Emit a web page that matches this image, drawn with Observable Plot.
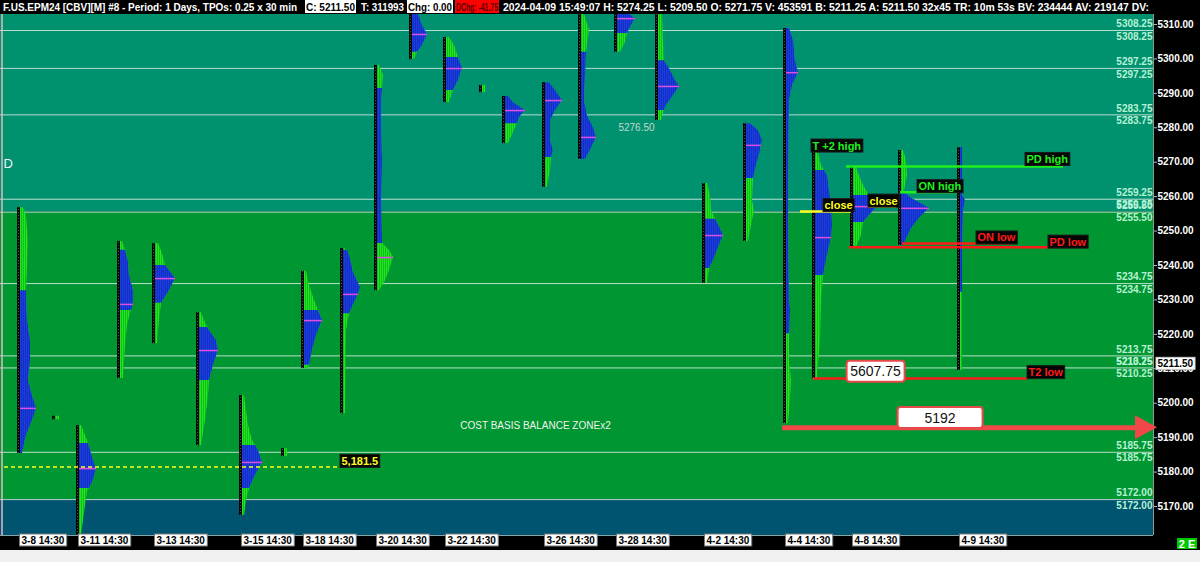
<!DOCTYPE html>
<html>
<head>
<meta charset="utf-8">
<script src="https://cdn.jsdelivr.net/npm/d3@7"></script>
<script src="https://cdn.jsdelivr.net/npm/@observablehq/plot@0.6"></script>
<style>
  html, body { margin: 0; padding: 0; background: #000; width: 1200px; height: 562px; overflow: hidden; }
  svg { display: block; }
</style>
</head>
<body>
<div id="chart"></div>
<script>
// ================= DATA =================
// one entry per daily / overnight market profile (left to right)
const profileDates = ["3-8","3-8 ON","3-11","3-12","3-13","3-14","3-15","3-15 ON","3-18","3-19","3-20","3-21","3-22","3-22 ON","3-25","3-26","3-27","3-28","4-1","4-2","4-3","4-4","4-5","4-8","4-8 ON","4-9"];
const dateLabels = ["3-8 14:30","","3-11 14:30","","3-13 14:30","","3-15 14:30","","3-18 14:30","","3-20 14:30","","3-22 14:30","","","3-26 14:30","","3-28 14:30","","4-2 14:30","","4-4 14:30","","4-8 14:30","","4-9 14:30"];
// cumulative TPO-column position of each profile
const columnPos = [18,53,77,118,153,197,240,282,302,341,375,410,444,480,503,543,579,615,656,703,744,784,813,851,899,958];
// profile outline: [price, TPO width] from top to bottom
const profileShapes = [
  [[5256.8,3],[5254.5,6],[5247,8],[5232.7,6],[5224,7],[5218.2,10],[5212.4,10],[5206.6,8],[5202.2,12],[5198.5,16],[5195,12],[5190.6,6],[5185.4,2]],
  [[5196.2,4],[5195.2,4]],
  [[5193.5,2],[5189.2,8],[5188.3,9],[5183.4,14],[5181,17],[5177.6,14],[5175.2,10],[5174.6,8],[5170.3,6],[5166,4],[5161.6,2]],
  [[5247,2],[5244.4,5],[5240.9,8],[5237.1,9],[5232.7,13],[5228.7,13],[5226.9,11],[5226.3,10],[5222.6,7],[5216.8,5],[5207.2,3]],
  [[5246.4,3],[5243.5,7],[5240,10],[5236.2,20],[5232.7,14],[5229,6],[5224,4],[5217.3,2]],
  [[5226.3,2],[5224,5],[5222,8],[5218.2,17],[5215.3,19],[5211,14],[5206.6,10],[5202.2,9],[5195,6],[5187.7,2]],
  [[5202.2,2],[5197.9,4],[5193.5,6],[5189.2,10],[5187.7,13],[5186.3,16],[5182.8,20],[5179,13],[5175.2,7],[5171.7,4],[5167.4,2]],
  [[5186.8,3],[5184.5,3]],
  [[5238.3,2],[5234.2,5],[5229.8,10],[5226.9,14],[5224,18],[5219.7,12],[5215.3,8],[5211,5],[5210.1,4]],
  [[5244.9,2],[5244.4,4],[5242,7],[5238,10],[5233.6,17],[5231.6,15],[5229.8,12],[5226,6],[5221.1,3],[5197,2]],
  [[5298.1,2],[5295.2,6],[5291.4,5],[5287.9,4],[5279.2,4],[5270.5,5],[5258.9,4],[5246.4,5],[5244.4,12],[5242.3,16],[5238.5,12],[5235.6,8],[5232.7,2]],
  [[5313,6],[5309.7,10],[5307.1,15],[5303.9,10],[5301.9,5],[5299.8,2]],
  [[5306.2,3],[5303.9,8],[5300.4,12],[5297.2,16],[5293.7,12],[5290.8,7],[5287.3,3]],
  [[5292.3,3],[5290.2,3]],
  [[5289.1,3],[5287.3,8],[5285,20],[5283,14],[5281.2,12],[5278.6,8],[5275.4,3]],
  [[5293.1,4],[5290.8,10],[5287.9,17],[5285,10],[5282.1,5],[5276.3,5],[5273.4,8],[5271.4,6],[5267.6,5],[5262.7,2]],
  [[5313,3],[5308.3,8],[5301.9,5],[5287.9,3],[5283.5,6],[5280,12],[5277.2,15],[5274,10],[5270.8,4]],
  [[5313,12],[5311.7,18],[5309.7,14],[5307.4,10],[5304.8,8],[5301.9,3]],
  [[5313,4],[5305.3,5],[5299.5,6],[5296.6,12],[5293.7,17],[5292,21],[5289.4,15],[5286.5,8],[5285,6],[5282.1,3]],
  [[5263.8,2],[5260.3,5],[5256,6],[5253.4,10],[5250.7,15],[5248.7,18],[5244.4,12],[5241.4,8],[5239.1,4],[5234.8,2]],
  [[5281.2,4],[5279.2,12],[5276.3,16],[5274.9,15],[5273.4,14],[5269,10],[5265.3,7],[5258.9,6],[5256,8],[5251.6,5],[5247,2]],
  [[5308.8,3],[5305.4,7],[5299.5,9],[5296,12],[5292.3,6],[5287.9,3],[5258.9,2],[5229.8,3],[5226.9,4],[5220.2,3],[5212.4,3],[5206.6,5],[5200.8,4],[5194.1,2]],
  [[5272.8,3],[5269,6],[5267.6,9],[5266.1,12],[5261.7,14],[5257.4,16],[5251.6,17],[5248.1,16],[5242.9,12],[5237.1,8],[5229.8,6],[5218.2,5],[5207.2,2]],
  [[5268.5,3],[5266.1,6],[5263.2,10],[5260.3,16],[5257.1,24],[5254.5,16],[5252.5,10],[5248.7,8],[5245.2,3]],
  [[5273.4,2],[5270.5,5],[5266.1,6],[5261.7,3],[5261,4],[5259.5,10],[5256.6,28],[5253.7,18],[5250.7,10],[5245.8,2]],
  [[5274.25,2],[5260.3,2],[5258.9,5],[5256,3],[5241.4,2],[5232.2,2],[5209.5,2]]
];
// blue section (range) and point of control of each profile
const valueLow  = [5185.4,NaN,5175.2,5226.9,5229,5206.6,5175.2,NaN,5211,5226,5246.4,5301.9,5290.8,NaN,5281.2,5271.4,5270.8,5307.4,5285,5239.1,5265.3,5220.2,5237.1,5252.5,5245.8,5232.2];
const valueHigh = [5232.7,NaN,5188.3,5244.4,5240,5222,5187.7,NaN,5226.9,5244.4,5291.4,5313,5300.4,NaN,5289.1,5293.1,5301.9,5313,5299.5,5253.4,5281.2,5308.8,5267.6,5260.3,5261,5274.25];
const pocPrice  = [5198.5,NaN,5181,5228.7,5236.2,5215.3,5182.8,NaN,5224,5231.6,5242.3,5307.1,5297.2,NaN,5285,5287.9,5277.2,5311.7,5292,5248.7,5274.9,5296,5248.1,5257.1,5256.6,NaN];

// price zones
const zoneLevels = [5308.25,5297.25,5283.75,5259.25,5255.50,5234.75,5213.75,5210.25,5185.75,5172.00];
const zoneEdges = [5255.5, 5172];
const priceTicks = [5170,5180,5190,5200,5210,5220,5230,5240,5250,5260,5270,5280,5290,5300,5310];
const lastPrice = 5211.5;

// reference lines
const refPrices = [5181.5, 5255.7, 5257.1, 5261.3, 5268.75, 5246.4, 5245.3, 5207.2];
const refFrom   = [4, 800, 868, 900, 846, 902, 849, 813];
const refTo     = [340, 851, 896, 957, 1063, 1012, 1048, 1027];
const refKinds  = ["yellowDash","yellow","yellow","green","green","red","red","red"];

// tag labels
const tagTexts  = ["5,181.5","T +2 high","close","close","ON high","PD high","ON low","PD low","T2 low"];
const tagPrices = [5183.1, 5274.7, 5257.4, 5258.7, 5262.9, 5270.8, 5248.0, 5246.8, 5208.9];
const tagCols   = [341, 812, 824, 869, 918, 1026, 977, 1049, 1028];
const tagKinds  = ["yellow","green","yellow","yellow","green","green","red","red","red"];

// callouts & arrow
const calloutTexts  = ["5607.75", "5192"];
const calloutPrices = [5209.1, 5195.7];
const calloutCols   = [875, 939.5];
const arrowPrice = 5192.9, arrowFrom = 782, arrowTo = 1157;

// free notes
const noteTexts  = ["COST BASIS BALANCE ZONEx2", "5276.50", "D"];
const notePrices = [5193.5, 5280.1, 5269.6];
const noteCols   = [535, 636, 3];

const headerTexts = [
  "F.US.EPM24 [CBV][M] #8 - Period: 1 Days, TPOs: 0.25 x 30 min",
  "C: 5211.50", "T: 311993", "Chg: 0.00", "DChg: -41.75",
  "2024-04-09 15:49:07 H: 5274.25 L: 5209.50 O: 5271.75 V: 453591 B: 5211.25 A: 5211.50 32x45 TR: 10m 53s BV: 234444 AV: 219147 DV:"
];

// ================= STYLE =================
const FONT = "'Liberation Sans', Arial, sans-serif";
const zoneColors = ["#00916f", "#009632", "#005470"];
const profGreen = "#22e622", profBlue = "#1b3de6";
const kindColor = {yellow: "#ffff1e", yellowDash: "#ffff1e", green: "#1ef01e", red: "#ff1a1a"};
const headerBox = [[2,298,null,"#fff"],[305,356,"#fff","#000"],[360,405,null,"#fff"],[407,453,"#fff","#000"],[455,499,"#f00","#5a0000"],[502,1150,null,"#fff"]];

// ================= BUILD =================
const yDomain = [5161.58, 5312.9];
const profiles = profileDates.map((date, i) => {
  const shape = profileShapes[i];
  const prices = shape.map(s => s[0]);
  return {i, date, label: dateLabels[i], pos: columnPos[i], shape,
    lo: d3.min(prices), hi: d3.max(prices), vaLow: valueLow[i], vaHigh: valueHigh[i], poc: pocPrice[i]};
});
const shapePts = profiles.flatMap(p => p.shape.map(([price, w]) => ({i: p.i, price, x1: p.pos + 2, x2: p.pos + 2 + w})));
const bluePts = shapePts.filter(d => { const p = profiles[d.i]; return d.price >= p.vaLow && d.price <= p.vaHigh; });
const pocRows = profiles.filter(p => Number.isFinite(p.poc)).map(p => {
  const s = p.shape.find(s => s[0] === p.poc);
  return {y: p.poc, x1: p.pos + 2, x2: p.pos + 2 + (s ? s[1] : 8)};
});
const zones = zoneColors.map((c, i) => ({top: i === 0 ? yDomain[1] : zoneEdges[i - 1], bottom: i === 2 ? yDomain[0] : zoneEdges[i], color: c}));
const refRows = refPrices.map((p, i) => ({price: p, from: refFrom[i], to: refTo[i], kind: refKinds[i]}));
const tags = tagTexts.map((t, i) => ({text: t, price: tagPrices[i], col: tagCols[i], kind: tagKinds[i]}));
const callouts = calloutTexts.map((t, i) => ({text: t, price: calloutPrices[i], col: calloutCols[i]}));
const notes = noteTexts.map((t, i) => ({text: t, price: notePrices[i], col: noteCols[i]}));

const plot = Plot.plot({
  width: 1200, height: 562,
  marginTop: 14, marginBottom: 27, marginLeft: 0, marginRight: 47,
  x: {domain: [0, 1153], axis: null},
  y: {domain: yDomain, axis: null},
  color: {type: "identity"},
  style: {background: "#000", color: "#fff", fontFamily: FONT, overflow: "visible"},
  marks: [
    Plot.rect(zones, {x1: () => 0, x2: () => 1153, y1: "bottom", y2: "top", fill: "color"}),
    Plot.ruleY(zoneLevels, {stroke: "#d9ece4", strokeOpacity: 0.85}),
    Plot.text(zoneLevels, {y: d => d, text: d => d.toFixed(2), frameAnchor: "right", textAnchor: "end", dx: -1, dy: -6.5, fill: "#b6f2d4", fontSize: 10, fontWeight: "bold"}),
    Plot.text(zoneLevels, {y: d => d, text: d => d.toFixed(2), frameAnchor: "right", textAnchor: "end", dx: -1, dy: 6, fill: "#b6f2d4", fontSize: 10, fontWeight: "bold"}),
    Plot.ruleX([1.5], {stroke: "#e6b8c2", strokeWidth: 1.5}),
    Plot.ruleX([1153], {stroke: "#8a9a94"}),
    Plot.ruleY([yDomain[0]], {stroke: "#8aa4a8"}),
    // notes
    Plot.text(notes.slice(0, 1), {x: "col", y: "price", text: "text", fill: "#eef4ee", fontSize: 10}),
    Plot.text(notes.slice(1, 2), {x: "col", y: "price", text: "text", fill: "#c6d8d0", fontSize: 10}),
    Plot.text(notes.slice(2), {x: "col", y: "price", text: "text", textAnchor: "start", fill: "#f2f2f2", fontSize: 13}),
    // profiles
    Plot.ruleX(profiles, {x: "pos", y1: "lo", y2: "hi", stroke: "#060606", strokeWidth: 3}),
    Plot.ruleX(profiles, {x: "pos", y1: "lo", y2: "hi", stroke: "#555", strokeWidth: 1, strokeDasharray: "1,2"}),
    Plot.areaX(shapePts, {y: "price", x1: "x1", x2: "x2", z: "i", fill: profGreen, curve: "linear"}),
    Plot.areaX(bluePts, {y: "price", x1: "x1", x2: "x2", z: "i", fill: profBlue, curve: "linear"}),
    Plot.ruleY(pocRows, {y: "y", x1: "x1", x2: "x2", stroke: "#e04ee0", strokeWidth: 1.5}),
    // reference lines
    Plot.ruleY(refRows.filter(d => d.kind === "yellowDash"), {y: "price", x1: "from", x2: "to", stroke: kindColor.yellowDash, strokeWidth: 1.5, strokeDasharray: "4,3"}),
    Plot.ruleY(refRows.filter(d => d.kind !== "yellowDash"), {y: "price", x1: "from", x2: "to", stroke: d => kindColor[d.kind], strokeWidth: 2.5}),
    // arrow shaft
    Plot.ruleY([arrowPrice], {x1: () => arrowFrom, x2: () => arrowTo - 18, stroke: "#f04848", strokeWidth: 5}),
    // right axis
    Plot.axisY(priceTicks, {anchor: "right", tickFormat: d => d.toFixed(2), tickSize: 3, tickPadding: 1, fontSize: 10, fontWeight: "bold", fill: "#fff", stroke: "#bbb", label: null}),
    Plot.text([lastPrice], {y: d => d, text: d => d.toFixed(2), frameAnchor: "right", textAnchor: "start", dx: 4, fill: "#000", fontSize: 10, fontWeight: "bold"}),
    // tags
    Plot.text(tags, {x: "col", y: "price", text: "text", textAnchor: "start", fill: d => kindColor[d.kind], fontSize: 11, fontWeight: "bold"}),
    // callouts
    Plot.text(callouts, {x: "col", y: "price", text: "text", fill: "#111", fontSize: 14}),
    // date labels
    Plot.text(profiles.filter(p => p.label), {x: d => d.pos + 3, text: "label", frameAnchor: "bottom", textAnchor: "start", dy: 8, fill: "#000", fontSize: 10, fontWeight: "bold"})
  ]
});

document.getElementById("chart").append(plot);
const root = d3.select(plot);
const plotTexts = root.selectAll("text").nodes();

// striped TPO texture for the profile areas
const defs = root.insert("defs", ":first-child");
[["stripeGreen", profGreen, "#10bf18"], ["stripeBlue", profBlue, "#1230bd"]].forEach(([id, c1, c2]) => {
  const p = defs.append("pattern").attr("id", id).attr("patternUnits", "userSpaceOnUse").attr("width", 2).attr("height", 4);
  p.append("rect").attr("width", 1).attr("height", 4).attr("fill", c1);
  p.append("rect").attr("x", 1).attr("width", 1).attr("height", 4).attr("fill", c2);
});
root.selectAll("g").filter(function() { return this.getAttribute("fill") === profGreen; }).attr("fill", "url(#stripeGreen)");
root.selectAll("g").filter(function() { return this.getAttribute("fill") === profBlue; }).attr("fill", "url(#stripeBlue)");

function boxify(contents, opts) {
  const set = new Set(contents);
  plotTexts.filter(n => set.has(n.textContent)).forEach((node, k) => {
    const b = node.getBBox();
    const w = opts.w ? opts.w[k] : b.width + 2 * (opts.padX ?? 1);
    const h = opts.h ?? b.height + 2 * (opts.padY ?? 0);
    const cx = b.x + b.width / 2, cy = b.y + b.height / 2;
    const rect = document.createElementNS("http://www.w3.org/2000/svg", "rect");
    const tr = node.getAttribute("transform");
    if (tr) rect.setAttribute("transform", tr);
    rect.setAttribute("x", cx - w / 2); rect.setAttribute("y", cy - h / 2);
    rect.setAttribute("width", w); rect.setAttribute("height", h);
    rect.setAttribute("rx", opts.rx || 0);
    rect.setAttribute("fill", opts.fill);
    rect.setAttribute("stroke", opts.stroke || "none");
    rect.setAttribute("stroke-width", opts.sw || 1);
    node.parentNode.insertBefore(rect, node);
  });
}
boxify(tagTexts, {fill: "#050505", stroke: "#1a1a1a", padX: 1.5, h: 13});
boxify(calloutTexts, {fill: "#fff", stroke: "#e84848", sw: 2, rx: 3, w: [58, 85], h: 21});
boxify(dateLabels.filter(d => d), {fill: "#fff", stroke: "#777", padX: 2, h: 12});
boxify([lastPrice.toFixed(2)], {fill: "#fff", stroke: "#ccc", padX: 1.5, h: 12});

// arrow head through the plot's scales
const sx = plot.scale("x"), sy = plot.scale("y");
const ay = sy.apply(arrowPrice), ax = sx.apply(arrowTo);
root.append("path").attr("d", `M${ax},${ay} L${ax - 22},${ay - 12} L${ax - 22},${ay + 12} Z`).attr("fill", "#f04848");

// header bar
const hdr = root.append("g").attr("font-family", FONT).attr("font-weight", "bold").attr("font-size", 10.5).attr("text-anchor", "start");
hdr.append("rect").attr("x", 0).attr("y", 0).attr("width", 1200).attr("height", 14).attr("fill", "#000");
headerTexts.forEach((t, i) => {
  const [x0, x1, bg, fg] = headerBox[i];
  if (bg) hdr.append("rect").attr("x", x0).attr("y", 0).attr("width", x1 - x0).attr("height", 13).attr("fill", bg);
  hdr.append("text").attr("x", x0 + 1).attr("y", 10.5).attr("fill", fg)
    .attr("textLength", x1 - x0 - 2).attr("lengthAdjust", "spacingAndGlyphs").text(t);
});

// bottom strip and status box
root.append("rect").attr("x", 0).attr("y", 550).attr("width", 1200).attr("height", 12).attr("fill", "#f0f0f0");
root.append("rect").attr("x", 1177).attr("y", 538).attr("width", 20).attr("height", 11).attr("fill", "#00c800");
root.append("text").attr("x", 1187).attr("y", 547.5).attr("text-anchor", "middle").attr("fill", "#fff")
  .attr("font-family", FONT).attr("font-weight", "bold").attr("font-size", 11).text("2 E");
</script>
</body>
</html>
